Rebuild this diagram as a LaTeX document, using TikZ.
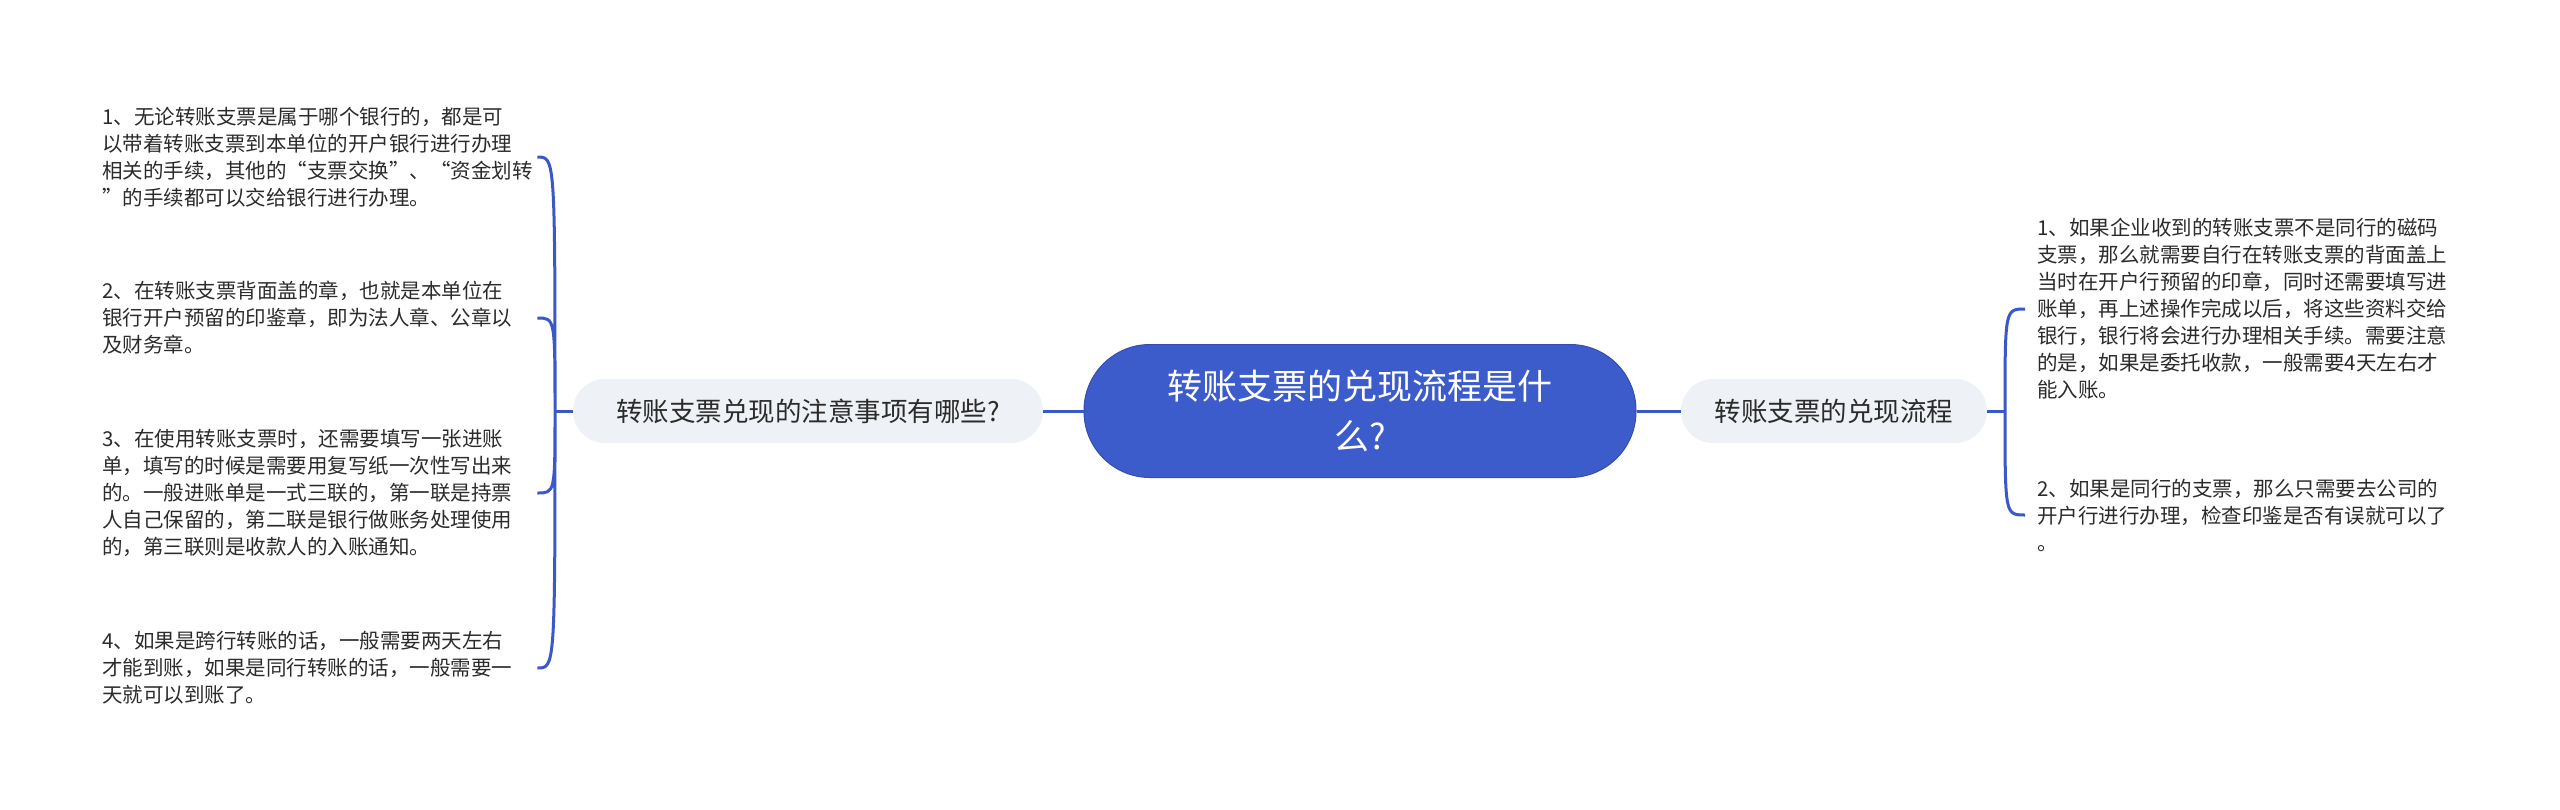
\documentclass[tikz,border=0pt]{standalone}
\usepackage{fontspec}
\usepackage{xcolor}
\newfontfamily\cjk{Noto Sans CJK SC}
\usetikzlibrary{positioning}
\definecolor{rootblue}{HTML}{3D5CCC}
\definecolor{linkblue}{HTML}{3A58C6}
\definecolor{topicgray}{HTML}{EEF1F5}
\definecolor{textgray}{HTML}{2B2B2B}

\begin{document}
\begin{tikzpicture}
    [x=1pt,y=-1pt,
     root/.style={rectangle,rounded corners=66pt,draw=rootblue!85!black,fill=rootblue,line width=1pt,
       text=white,minimum width=552pt,minimum height=133pt,align=center,
       font=\cjk\fontsize{35}{50}\selectfont},
     topic/.style={rectangle,rounded corners=32pt,fill=topicgray,minimum height=64pt,text=textgray,
       font=\cjk\fontsize{26.5}{32}\selectfont},
     leaf/.style={inner sep=0pt,align=left,text=textgray,font=\cjk\fontsize{20.5}{27}\selectfont},
     link/.style={draw=linkblue,line width=3pt}]
    \useasboundingbox (0,0) rectangle (2560,809);
    \node (T) at (1360,411) [root] {转账支票的兑现流程是什\\么?};
    \node (N) at (808,411) [topic,minimum width=470pt] {转账支票兑现的注意事项有哪些?};
    \node (F) at (1834,411) [topic,minimum width=306pt] {转账支票的兑现流程};
    \coordinate (NS) at (555,411);
    \coordinate (FS) at (2005,411);
    \node (N1) at (102,157) [leaf,anchor=west,text width=430pt]
      {1、无论转账支票是属于哪个银行的，都是可\\以带着转账支票到本单位的开户银行进行办理\\相关的手续，其他的“支票交换”、“资金划转\\”的手续都可以交给银行进行办理。};
    \node (N2) at (102,318) [leaf,anchor=west,text width=430pt]
      {2、在转账支票背面盖的章，也就是本单位在\\银行开户预留的印鉴章，即为法人章、公章以\\及财务章。};
    \node (N3) at (102,493) [leaf,anchor=west,text width=430pt]
      {3、在使用转账支票时，还需要填写一张进账\\单，填写的时候是需要用复写纸一次性写出来\\的。一般进账单是一式三联的，第一联是持票\\人自己保留的，第二联是银行做账务处理使用\\的，第三联则是收款人的入账通知。};
    \node (N4) at (102,668) [leaf,anchor=west,text width=430pt]
      {4、如果是跨行转账的话，一般需要两天左右\\才能到账，如果是同行转账的话，一般需要一\\天就可以到账了。};
    \node (F1) at (2037,309) [leaf,anchor=west]
      {1、如果企业收到的转账支票不是同行的磁码\\支票，那么就需要自行在转账支票的背面盖上\\当时在开户行预留的印章，同时还需要填写进\\账单，再上述操作完成以后，将这些资料交给\\银行，银行将会进行办理相关手续。需要注意\\的是，如果是委托收款，一般需要4天左右才\\能入账。};
    \node (F2) at (2037,515) [leaf,anchor=west]
      {2、如果是同行的支票，那么只需要去公司的\\开户行进行办理，检查印鉴是否有误就可以了\\。};
    \draw [link] (T) -- (N) (T) -- (F)
                 (N) -- (NS) (F) -- (FS);
    \draw [link] (NS) .. controls (NS |- N1.east) .. ([xshift=5pt]N1.east)
                 (NS) .. controls (NS |- N2.east) .. ([xshift=5pt]N2.east)
                 (NS) .. controls (NS |- N3.east) .. ([xshift=5pt]N3.east)
                 (NS) .. controls (NS |- N4.east) .. ([xshift=5pt]N4.east);
    \draw [link] (FS) .. controls (FS |- F1.west) .. ([xshift=-12pt]F1.west)
                 (FS) .. controls (FS |- F2.west) .. ([xshift=-12pt]F2.west);
\end{tikzpicture}
\end{document}
